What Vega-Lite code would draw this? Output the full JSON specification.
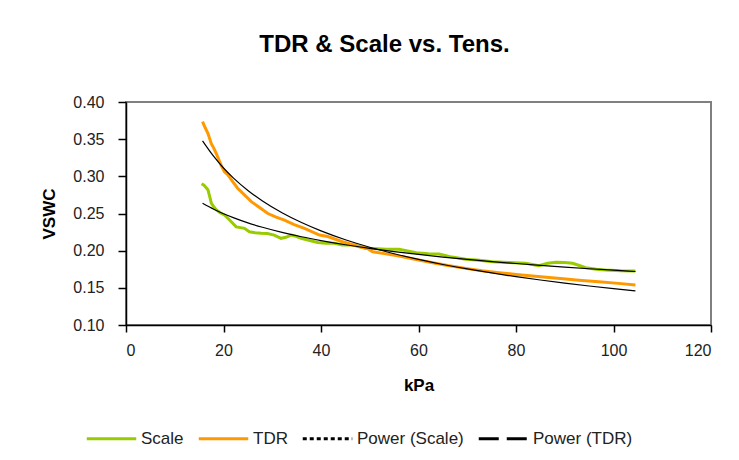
{
  "$schema": "https://vega.github.io/schema/vega-lite/v6.json",
  "autosize": {"type": "none"},
  "width": 585,
  "height": 223,
  "padding": {"left": 126, "top": 102, "right": 28, "bottom": 135},
  "background": "white",
  "title": {
    "text": "TDR & Scale vs. Tens.",
    "anchor": "middle",
    "dx": -34,
    "offset": 37,
    "font": "Liberation Sans",
    "fontSize": 24,
    "fontWeight": "bold",
    "color": "#000000"
  },
  "datasets": {
    "raw": [
      {"k": 15.5, "v": 0.290, "s": "Scale"},
      {"k": 16.0, "v": 0.288, "s": "Scale"},
      {"k": 16.8, "v": 0.282, "s": "Scale"},
      {"k": 17.2, "v": 0.272, "s": "Scale"},
      {"k": 17.5, "v": 0.264, "s": "Scale"},
      {"k": 18.0, "v": 0.259, "s": "Scale"},
      {"k": 18.5, "v": 0.255, "s": "Scale"},
      {"k": 19.3, "v": 0.251, "s": "Scale"},
      {"k": 20.2, "v": 0.248, "s": "Scale"},
      {"k": 21.0, "v": 0.243, "s": "Scale"},
      {"k": 21.6, "v": 0.239, "s": "Scale"},
      {"k": 22.6, "v": 0.232, "s": "Scale"},
      {"k": 23.5, "v": 0.231, "s": "Scale"},
      {"k": 24.3, "v": 0.230, "s": "Scale"},
      {"k": 25.3, "v": 0.2255, "s": "Scale"},
      {"k": 26.5, "v": 0.224, "s": "Scale"},
      {"k": 27.7, "v": 0.2233, "s": "Scale"},
      {"k": 29.0, "v": 0.223, "s": "Scale"},
      {"k": 30.4, "v": 0.221, "s": "Scale"},
      {"k": 31.8, "v": 0.2166, "s": "Scale"},
      {"k": 32.8, "v": 0.218, "s": "Scale"},
      {"k": 33.9, "v": 0.221, "s": "Scale"},
      {"k": 35.0, "v": 0.219, "s": "Scale"},
      {"k": 35.9, "v": 0.2166, "s": "Scale"},
      {"k": 37.5, "v": 0.214, "s": "Scale"},
      {"k": 39.3, "v": 0.211, "s": "Scale"},
      {"k": 41.0, "v": 0.210, "s": "Scale"},
      {"k": 42.7, "v": 0.210, "s": "Scale"},
      {"k": 44.4, "v": 0.2076, "s": "Scale"},
      {"k": 46.8, "v": 0.2076, "s": "Scale"},
      {"k": 49.2, "v": 0.203, "s": "Scale"},
      {"k": 50.9, "v": 0.203, "s": "Scale"},
      {"k": 53.3, "v": 0.2018, "s": "Scale"},
      {"k": 56.0, "v": 0.2018, "s": "Scale"},
      {"k": 57.5, "v": 0.200, "s": "Scale"},
      {"k": 59.5, "v": 0.1973, "s": "Scale"},
      {"k": 62.0, "v": 0.196, "s": "Scale"},
      {"k": 64.2, "v": 0.1955, "s": "Scale"},
      {"k": 66.5, "v": 0.192, "s": "Scale"},
      {"k": 69.7, "v": 0.1884, "s": "Scale"},
      {"k": 72.5, "v": 0.187, "s": "Scale"},
      {"k": 75.2, "v": 0.1852, "s": "Scale"},
      {"k": 78.5, "v": 0.184, "s": "Scale"},
      {"k": 82.0, "v": 0.183, "s": "Scale"},
      {"k": 84.7, "v": 0.1798, "s": "Scale"},
      {"k": 86.5, "v": 0.183, "s": "Scale"},
      {"k": 88.2, "v": 0.1843, "s": "Scale"},
      {"k": 90.0, "v": 0.184, "s": "Scale"},
      {"k": 91.6, "v": 0.183, "s": "Scale"},
      {"k": 93.0, "v": 0.180, "s": "Scale"},
      {"k": 94.3, "v": 0.1771, "s": "Scale"},
      {"k": 96.5, "v": 0.175, "s": "Scale"},
      {"k": 98.4, "v": 0.174, "s": "Scale"},
      {"k": 101.5, "v": 0.173, "s": "Scale"},
      {"k": 104.5, "v": 0.1727, "s": "Scale"},
      {"k": 15.7, "v": 0.3735, "s": "TDR"},
      {"k": 16.2, "v": 0.366, "s": "TDR"},
      {"k": 16.8, "v": 0.358, "s": "TDR"},
      {"k": 17.5, "v": 0.344, "s": "TDR"},
      {"k": 18.0, "v": 0.338, "s": "TDR"},
      {"k": 18.5, "v": 0.331, "s": "TDR"},
      {"k": 19.5, "v": 0.315, "s": "TDR"},
      {"k": 20.2, "v": 0.306, "s": "TDR"},
      {"k": 20.9, "v": 0.302, "s": "TDR"},
      {"k": 22.0, "v": 0.292, "s": "TDR"},
      {"k": 22.9, "v": 0.284, "s": "TDR"},
      {"k": 24.3, "v": 0.275, "s": "TDR"},
      {"k": 25.7, "v": 0.266, "s": "TDR"},
      {"k": 27.4, "v": 0.258, "s": "TDR"},
      {"k": 29.1, "v": 0.250, "s": "TDR"},
      {"k": 30.8, "v": 0.245, "s": "TDR"},
      {"k": 32.5, "v": 0.241, "s": "TDR"},
      {"k": 34.5, "v": 0.235, "s": "TDR"},
      {"k": 36.6, "v": 0.230, "s": "TDR"},
      {"k": 39.7, "v": 0.221, "s": "TDR"},
      {"k": 41.4, "v": 0.219, "s": "TDR"},
      {"k": 44.4, "v": 0.212, "s": "TDR"},
      {"k": 45.5, "v": 0.210, "s": "TDR"},
      {"k": 47.5, "v": 0.206, "s": "TDR"},
      {"k": 49.5, "v": 0.203, "s": "TDR"},
      {"k": 50.6, "v": 0.1986, "s": "TDR"},
      {"k": 53.0, "v": 0.196, "s": "TDR"},
      {"k": 56.0, "v": 0.1928, "s": "TDR"},
      {"k": 59.5, "v": 0.188, "s": "TDR"},
      {"k": 62.9, "v": 0.1838, "s": "TDR"},
      {"k": 66.0, "v": 0.180, "s": "TDR"},
      {"k": 69.7, "v": 0.1762, "s": "TDR"},
      {"k": 73.0, "v": 0.173, "s": "TDR"},
      {"k": 76.5, "v": 0.1704, "s": "TDR"},
      {"k": 80.0, "v": 0.168, "s": "TDR"},
      {"k": 83.4, "v": 0.166, "s": "TDR"},
      {"k": 86.8, "v": 0.164, "s": "TDR"},
      {"k": 90.2, "v": 0.1619, "s": "TDR"},
      {"k": 93.5, "v": 0.160, "s": "TDR"},
      {"k": 97.0, "v": 0.1583, "s": "TDR"},
      {"k": 101.0, "v": 0.156, "s": "TDR"},
      {"k": 104.5, "v": 0.1538, "s": "TDR"}
    ],
    "trend": [
      {"k": 15.7, "v": 0.2637, "s": "Power (Scale)"},
      {"k": 18, "v": 0.2557, "s": "Power (Scale)"},
      {"k": 20, "v": 0.2497, "s": "Power (Scale)"},
      {"k": 22, "v": 0.2444, "s": "Power (Scale)"},
      {"k": 25, "v": 0.2374, "s": "Power (Scale)"},
      {"k": 28, "v": 0.2315, "s": "Power (Scale)"},
      {"k": 32, "v": 0.2246, "s": "Power (Scale)"},
      {"k": 36, "v": 0.2187, "s": "Power (Scale)"},
      {"k": 40, "v": 0.2136, "s": "Power (Scale)"},
      {"k": 45, "v": 0.2080, "s": "Power (Scale)"},
      {"k": 50, "v": 0.2031, "s": "Power (Scale)"},
      {"k": 55, "v": 0.1988, "s": "Power (Scale)"},
      {"k": 60, "v": 0.1949, "s": "Power (Scale)"},
      {"k": 65, "v": 0.1914, "s": "Power (Scale)"},
      {"k": 70, "v": 0.1883, "s": "Power (Scale)"},
      {"k": 75, "v": 0.1853, "s": "Power (Scale)"},
      {"k": 80, "v": 0.1827, "s": "Power (Scale)"},
      {"k": 85, "v": 0.1802, "s": "Power (Scale)"},
      {"k": 90, "v": 0.1779, "s": "Power (Scale)"},
      {"k": 95, "v": 0.1757, "s": "Power (Scale)"},
      {"k": 100, "v": 0.1737, "s": "Power (Scale)"},
      {"k": 104.5, "v": 0.1720, "s": "Power (Scale)"},
      {"k": 15.7, "v": 0.3477, "s": "Power (TDR)"},
      {"k": 18, "v": 0.3267, "s": "Power (TDR)"},
      {"k": 20, "v": 0.3112, "s": "Power (TDR)"},
      {"k": 22, "v": 0.2979, "s": "Power (TDR)"},
      {"k": 25, "v": 0.2810, "s": "Power (TDR)"},
      {"k": 28, "v": 0.2668, "s": "Power (TDR)"},
      {"k": 32, "v": 0.2510, "s": "Power (TDR)"},
      {"k": 36, "v": 0.2378, "s": "Power (TDR)"},
      {"k": 40, "v": 0.2266, "s": "Power (TDR)"},
      {"k": 45, "v": 0.2147, "s": "Power (TDR)"},
      {"k": 50, "v": 0.2046, "s": "Power (TDR)"},
      {"k": 55, "v": 0.1959, "s": "Power (TDR)"},
      {"k": 60, "v": 0.1882, "s": "Power (TDR)"},
      {"k": 65, "v": 0.1814, "s": "Power (TDR)"},
      {"k": 70, "v": 0.1754, "s": "Power (TDR)"},
      {"k": 75, "v": 0.1700, "s": "Power (TDR)"},
      {"k": 80, "v": 0.1650, "s": "Power (TDR)"},
      {"k": 85, "v": 0.1605, "s": "Power (TDR)"},
      {"k": 90, "v": 0.1564, "s": "Power (TDR)"},
      {"k": 95, "v": 0.1525, "s": "Power (TDR)"},
      {"k": 100, "v": 0.1489, "s": "Power (TDR)"},
      {"k": 104.5, "v": 0.1460, "s": "Power (TDR)"}
    ],
    "keys": [
      {"k": 104.5, "v": 0.1727, "s": "Scale"},
      {"k": 104.5, "v": 0.1538, "s": "TDR"},
      {"k": 104.5, "v": 0.1720, "s": "Power (Scale)"},
      {"k": 104.5, "v": 0.1460, "s": "Power (TDR)"}
    ]
  },
  "encoding": {
    "x": {
      "field": "k",
      "type": "quantitative",
      "scale": {"domain": [0, 120], "nice": false, "zero": false},
      "axis": {
        "title": "kPa",
        "values": [0, 20, 40, 60, 80, 100, 120],
        "labelPadding": 10,
        "tickSize": 7,
        "titlePadding": 19
      }
    },
    "y": {
      "field": "v",
      "type": "quantitative",
      "scale": {"domain": [0.1, 0.4], "nice": false, "zero": false},
      "axis": {
        "title": "VSWC",
        "values": [0.1, 0.15, 0.2, 0.25, 0.3, 0.35, 0.4],
        "format": ".2f",
        "labelOverlap": false,
        "labelPadding": 14,
        "tickSize": 8,
        "titlePadding": 14
      }
    },
    "color": {
      "field": "s",
      "type": "nominal",
      "scale": {
        "domain": ["Scale", "TDR", "Power (Scale)", "Power (TDR)"],
        "range": ["#99CC00", "#FF9900", "#000000", "#000000"]
      },
      "legend": {
        "title": null,
        "orient": "none",
        "direction": "horizontal",
        "columns": 4,
        "legendX": -41,
        "legendY": 310,
        "symbolType": "stroke",
        "symbolSize": 2450,
        "labelOffset": 3,
        "columnPadding": 8,
        "padding": 0,
        "labelFont": "Liberation Sans",
        "labelFontSize": 17,
        "labelColor": "#222222"
      }
    }
  },
  "layer": [
    {
      "data": {"name": "raw"},
      "mark": {"type": "line", "strokeWidth": 3}
    },
    {
      "data": {"name": "trend"},
      "mark": {"type": "line", "strokeWidth": 1.2, "interpolate": "monotone"}
    },
    {
      "data": {"name": "keys"},
      "mark": {"type": "line"},
      "encoding": {
        "strokeDash": {
          "field": "s",
          "type": "nominal",
          "scale": {
            "domain": ["Scale", "TDR", "Power (Scale)", "Power (TDR)"],
            "range": [[1, 0], [1, 0], [4, 3], [20, 8]]
          },
          "legend": {"title": null}
        },
        "strokeWidth": {
          "field": "s",
          "type": "nominal",
          "scale": {
            "domain": ["Scale", "TDR", "Power (Scale)", "Power (TDR)"],
            "range": [3, 3, 1.3, 1.3]
          },
          "legend": {"title": null}
        }
      }
    }
  ],
  "config": {
    "view": {"stroke": "#808080", "strokeWidth": 2},
    "axis": {
      "grid": false,
      "domainColor": "#000000",
      "domainWidth": 1.5,
      "tickColor": "#000000",
      "tickWidth": 1.5,
      "labelFont": "Liberation Sans",
      "labelFontSize": 16,
      "labelColor": "#222222",
      "titleFont": "Liberation Sans",
      "titleFontSize": 17,
      "titleFontWeight": "bold",
      "titleColor": "#000000"
    }
  }
}
